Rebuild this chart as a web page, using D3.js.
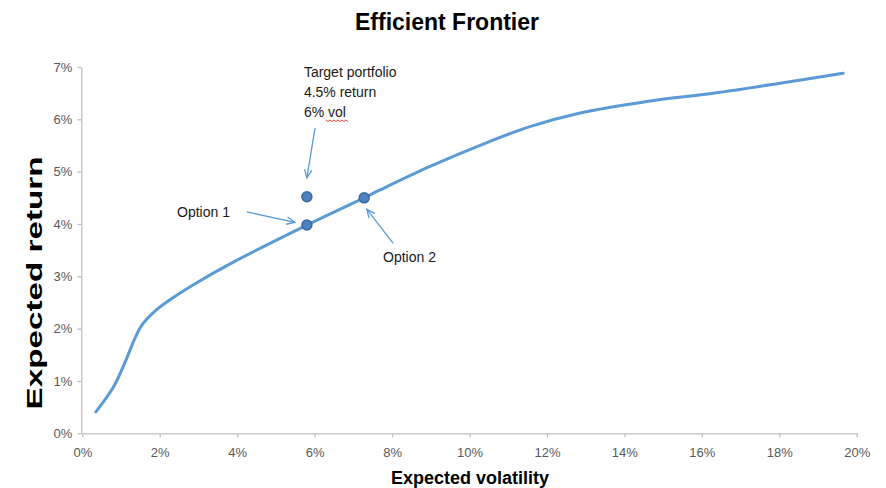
<!DOCTYPE html>
<html>
<head>
<meta charset="utf-8">
<script src="https://cdn.jsdelivr.net/npm/d3@7"></script>
<style>
  body { margin: 0; background: #fff; }
  svg { display: block; font-family: "Liberation Sans", Arial, sans-serif; }
</style>
</head>
<body>
<svg id="chart" width="886" height="488"></svg>
<script>
// frontier (% vol, % return)
const frontierVol = [0.35, 0.8, 1.1, 1.35, 1.55, 1.9, 2.4, 2.87, 3.9, 5.8, 7.28, 7.69, 8.98, 10.53, 11.56, 12.86, 14.58, 16.3, 18.02, 19.65];
const frontierRet = [0.41, 0.88, 1.35, 1.8, 2.08, 2.35, 2.62, 2.84, 3.27, 3.98, 4.5, 4.65, 5.1, 5.58, 5.86, 6.12, 6.34, 6.5, 6.69, 6.88];

const pointNames = ["Target", "Option 1", "Option 2"];
const pointVol = [5.8, 5.8, 7.28];
const pointRet = [4.52, 3.98, 4.5];

const xTicks = [0, 2, 4, 6, 8, 10, 12, 14, 16, 18, 20];
const yTicks = [0, 1, 2, 3, 4, 5, 6, 7];

// annotation arrows in data units: [fromVol, fromRet, toVol, toRet]
const arrows = [
  [6.01, 5.83, 5.8, 4.88],
  [4.25, 4.23, 5.49, 4.03],
  [8.03, 3.63, 7.35, 4.28]
];

document.addEventListener("DOMContentLoaded", function() {
    const svg = d3.select("#chart");
    const x = d3.scaleLinear().domain([0, 20]).range([82.3, 856.7]);
    const y = d3.scaleLinear().domain([0, 7]).range([433.3, 67]);
    const axisColor = "#bfbfbf", labelColor = "#595959";

    // title
    svg.append("text").attr("x", 447).attr("y", 30).attr("text-anchor", "middle")
        .style("font-size", "23px").style("font-weight", "700").attr("fill", "#000").text("Efficient Frontier");

    // axes
    const xAxis = svg.append("g").attr("transform", `translate(0,${y(0)})`)
        .call(d3.axisBottom(x).tickValues(xTicks).tickSize(4).tickSizeOuter(0).tickFormat(d => d + "%"));
    const yAxis = svg.append("g").attr("transform", `translate(${x(0) - 1},0)`)
        .call(d3.axisLeft(y).tickValues(yTicks).tickSize(4).tickSizeOuter(0).tickFormat(d => d + "%"));
    [xAxis, yAxis].forEach(a => {
        a.select(".domain").attr("stroke", axisColor).attr("stroke-width", 1.3);
        a.selectAll(".tick line").attr("stroke", axisColor).attr("stroke-width", 1.3);
        a.selectAll(".tick text").attr("fill", labelColor).style("font-size", "13px").style("font-family", "Liberation Sans, Arial, sans-serif");
    });
    xAxis.selectAll(".tick text").attr("dy", "0").attr("y", 24);
    yAxis.selectAll(".tick text").attr("x", -9);

    // axis titles
    svg.append("text").attr("x", 470).attr("y", 484).attr("text-anchor", "middle")
        .style("font-size", "18px").style("font-weight", "700").text("Expected volatility");
    svg.append("text").attr("transform", "translate(42,283) rotate(-90)").attr("text-anchor", "middle")
        .attr("textLength", 253).attr("lengthAdjust", "spacingAndGlyphs")
        .style("font-size", "22px").style("font-weight", "700").text("Expected return");

    // frontier
    const line = d3.line().x(d => x(d[0])).y(d => y(d[1])).curve(d3.curveCatmullRom.alpha(0.5));
    svg.append("path").datum(d3.zip(frontierVol, frontierRet)).attr("d", line)
        .attr("fill", "none").attr("stroke", "#5b9bd5").attr("stroke-width", 3).attr("stroke-linecap", "round");

    // points
    svg.selectAll(".pt").data(pointNames).join("circle").attr("class", "pt")
        .attr("cx", (d, i) => x(pointVol[i])).attr("cy", (d, i) => y(pointRet[i])).attr("r", 5)
        .attr("fill", "#4f81bd").attr("stroke", "#3a6aa0").attr("stroke-width", 1.5);

    // arrows
    const arrowColor = "#5b9bd5";
    arrows.forEach(a => {
        const x1 = x(a[0]), y1 = y(a[1]), x2 = x(a[2]), y2 = y(a[3]);
        const ang = Math.atan2(y2 - y1, x2 - x1), L = 9, spread = 0.42;
        svg.append("line").attr("x1", x1).attr("y1", y1).attr("x2", x2).attr("y2", y2)
            .attr("stroke", arrowColor).attr("stroke-width", 1.3);
        svg.append("path")
            .attr("d", `M${x2 - L * Math.cos(ang - spread)},${y2 - L * Math.sin(ang - spread)}L${x2},${y2}L${x2 - L * Math.cos(ang + spread)},${y2 - L * Math.sin(ang + spread)}`)
            .attr("fill", "none").attr("stroke", arrowColor).attr("stroke-width", 1.3);
    });

    // annotation texts
    const txt = (tx, ty, s) => svg.append("text").attr("x", tx).attr("y", ty)
        .style("font-size", "14px").attr("fill", "#1a1a1a").text(s);
    const tx = x(pointVol[0]) - 3;
    txt(tx, 77, "Target portfolio");
    txt(tx, 97, "4.5% return");
    const volLine = txt(tx, 117, "6% vol");
    txt(177, 217, "Option 1");
    txt(383, 262, "Option 2");

    // red spell-check squiggle under "vol"
    const bb = volLine.node().getBBox();
    const sx0 = bb.x + bb.width - 20, sx1 = bb.x + bb.width + 1, sy = 120;
    let d = `M${sx0},${sy}`;
    for (let sx = sx0, k = 0; sx < sx1; sx += 2, k++) d += `L${sx + 2},${sy + (k % 2 ? 0 : 1.6)}`;
    svg.append("path").attr("d", d).attr("fill", "none").attr("stroke", "#e03030").attr("stroke-width", 0.9);
});
</script>
</body>
</html>
